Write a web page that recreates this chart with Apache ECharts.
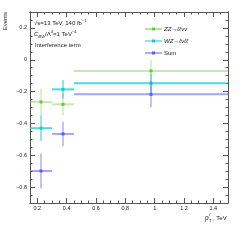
<!DOCTYPE html>
<html><head><meta charset="utf-8">
<script src="https://cdn.jsdelivr.net/npm/echarts@6/dist/echarts.min.js"></script>
<style>html,body{margin:0;padding:0;background:#fff}#c{width:249px;height:240px}</style>
</head><body><div id="c"></div>
<script>
// ---- data ----
const binLo = [0.15, 0.30, 0.45];
const binHi = [0.30, 0.45, 1.50];
const zzVal = [-0.265, -0.280, -0.070];
const zzErr = [0.085, 0.070, 0.070];
const wzVal = [-0.430, -0.186, -0.148];
const wzErr = [0.080, 0.058, 0.060];
const sumVal = [-0.699, -0.466, -0.217];
const sumErr = [0.110, 0.077, 0.082];
const seriesNames = ['ZZ\u2192\u2113\u2113\u03bd\u03bd', 'WZ\u2192\u2113\u03bd\u2113\u2113', 'Sum'];
const xMajorTicks = [0.2, 0.4, 0.6, 0.8, 1.0, 1.2, 1.4];
const xTickLabels = ['0.2', '0.4', '0.6', '0.8', '1', '1.2', '1.4'];
const yMajorTicks = [-0.8, -0.6, -0.4, -0.2, 0, 0.2];
const yTickLabels = ['\u22120.8', '\u22120.6', '\u22120.4', '\u22120.2', '0', '0.2'];
const xRange = [0.15, 1.5];
const yRange = [-0.9, 0.3];

// ---- helpers ----
function minorTicks(lo, hi, step) {
  const out = [];
  for (let v = lo; v <= hi + 1e-9; v += step) out.push(Math.round(v * 1000) / 1000);
  return out;
}
const xMinor = minorTicks(0.15, 1.5, 0.05);
const yMinor = minorTicks(-0.9, 0.3, 0.05);
const FONT = 'Liberation Sans, Arial, Helvetica, sans-serif';
const AX = '#555';

function mkData(vals, errs) {
  return vals.map((v, i) => [binLo[i], binHi[i], v, errs[i]]);
}
const colors = [
  { mark: '#5fcc30', line: 'rgba(110,205,70,0.42)' },
  { mark: '#17cccc', line: 'rgba(20,205,205,0.75)' },
  { mark: '#5a5af5', line: 'rgba(90,90,245,0.55)' }
];

function renderItem(params, api) {
  const x0 = api.value(0), x1 = api.value(1), y = api.value(2), e = api.value(3);
  const xc = (x0 + x1) / 2;
  const a = api.coord([x0, y]), b = api.coord([x1, y]);
  const t = api.coord([xc, y + e]), d = api.coord([xc, y - e]);
  const c = api.coord([xc, y]);
  const col = colors[params.seriesIndex];
  return {
    type: 'group',
    children: [
      { type: 'line', shape: { x1: a[0], y1: a[1], x2: b[0], y2: b[1] }, style: { stroke: col.line, lineWidth: 2 } },
      { type: 'line', shape: { x1: t[0], y1: t[1], x2: d[0], y2: d[1] }, style: { stroke: col.line, lineWidth: 1.3 } },
      { type: 'rect', shape: { x: c[0] - 1.5, y: c[1] - 1.5, width: 3, height: 3 }, style: { fill: col.mark } }
    ]
  };
}

function xAx(pos, ticks, len, labels) {
  return {
    type: 'value', min: xRange[0], max: xRange[1], position: pos, gridIndex: 0,
    axisLine: { show: true, onZero: false, lineStyle: { color: AX, width: 1 } },
    axisTick: { show: true, inside: true, length: len, customValues: ticks, lineStyle: { color: AX, width: 1 } },
    axisLabel: labels ? { show: true, customValues: xMajorTicks, fontSize: 5.5, fontFamily: FONT, color: '#222', margin: 2,
      formatter: v => xTickLabels[xMajorTicks.findIndex(t => Math.abs(t - v) < 1e-6)] } : { show: false },
    splitLine: { show: false }
  };
}
function yAx(pos, ticks, len, labels) {
  return {
    type: 'value', min: yRange[0], max: yRange[1], position: pos, gridIndex: 0,
    axisLine: { show: true, onZero: false, lineStyle: { color: AX, width: 1 } },
    axisTick: { show: true, inside: true, length: len, customValues: ticks, lineStyle: { color: AX, width: 1 } },
    axisLabel: labels ? { show: true, customValues: yMajorTicks, fontSize: 5.5, fontFamily: FONT, color: '#222', margin: 3,
      formatter: v => yTickLabels[yMajorTicks.findIndex(t => Math.abs(t - v) < 1e-6)] } : { show: false },
    splitLine: { show: false }
  };
}

const chart = echarts.init(document.getElementById('c'), null, { renderer: 'canvas' });
const base = { fontFamily: FONT, fontSize: 6, color: '#222' };
chart.setOption({
  animation: false,
  backgroundColor: '#fff',
  grid: { left: 30, top: 12, right: 21, bottom: 37, containLabel: false },
  xAxis: [xAx('bottom', xMajorTicks, 5, true), xAx('bottom', xMinor, 2.5, false), xAx('top', xMajorTicks, 5, false), xAx('top', xMinor, 2.5, false)],
  yAxis: [yAx('left', yMajorTicks, 5, true), yAx('left', yMinor, 2.5, false), yAx('right', yMajorTicks, 5, false), yAx('right', yMinor, 2.5, false)],
  legend: {
    orient: 'vertical', left: 140, top: 21, itemWidth: 17, itemHeight: 3, itemGap: 6,
    icon: 'path://M0,2h34v2h-34z M14,0h6v6h-6z',
    data: seriesNames,
    textStyle: { fontFamily: FONT, fontSize: 6, color: '#222', padding: [0, 0, 0, -3],
      rich: { i: { fontFamily: FONT, fontSize: 6, fontStyle: 'italic', color: '#222' } } },
    formatter: n => n === 'Sum' ? n : '{i|' + n + '}'
  },
  series: [
    { name: seriesNames[0], type: 'custom', renderItem, data: mkData(zzVal, zzErr), itemStyle: { color: colors[0].mark }, xAxisIndex: 0, yAxisIndex: 0, encode: { x: [0, 1], y: 2 } },
    { name: seriesNames[1], type: 'custom', renderItem, data: mkData(wzVal, wzErr), itemStyle: { color: colors[1].mark }, xAxisIndex: 0, yAxisIndex: 0, encode: { x: [0, 1], y: 2 } },
    { name: seriesNames[2], type: 'custom', renderItem, data: mkData(sumVal, sumErr), itemStyle: { color: colors[2].mark }, xAxisIndex: 0, yAxisIndex: 0, encode: { x: [0, 1], y: 2 } }
  ],
  graphic: [
    { type: 'text', left: 2, top: 12, rotation: Math.PI / 2, style: { text: 'Events', fontFamily: FONT, fontSize: 6, fill: '#222' }, originX: 0, originY: 0, x: 0, y: 0 },
    { type: 'text', x: 34, y: 19, style: {
      text: '\u221as=13 TeV, 140 fb{sup|\u22121}', fontFamily: FONT, fontSize: 6, fill: '#222',
      rich: { sup: { fontSize: 4.2, fontFamily: FONT, verticalAlign: 'top', lineHeight: 8 } } } },
    { type: 'text', x: 34, y: 30, style: {
      text: '{i|C}{sub|B\u0303W}/\u039b{sup|4}=1 TeV{sup|\u22124}', fontFamily: FONT, fontSize: 6, fill: '#222',
      rich: { i: { fontStyle: 'italic', fontSize: 6, fontFamily: FONT, lineHeight: 9 },
              sub: { fontStyle: 'italic', fontSize: 4.2, fontFamily: FONT, verticalAlign: 'bottom', lineHeight: 9 },
              sup: { fontSize: 4.2, fontFamily: FONT, verticalAlign: 'top', lineHeight: 9 } } } },
    { type: 'text', x: 35, y: 42, style: { text: 'Interference term', fontFamily: FONT, fontSize: 6, fill: '#222' } },
    { type: 'text', x: 205, y: 215, style: { text: 'p', fontFamily: FONT, fontSize: 6.5, fontStyle: 'italic', fill: '#222' } },
    { type: 'text', x: 209, y: 213, style: { text: '\u2113', fontFamily: FONT, fontSize: 4.2, fontStyle: 'italic', fill: '#222' } },
    { type: 'text', x: 209, y: 219, style: { text: 'T', fontFamily: FONT, fontSize: 4.2, fill: '#222' } },
    { type: 'text', x: 213, y: 215, style: { text: ', TeV', fontFamily: FONT, fontSize: 6, fill: '#222' } }
  ]
});
</script></body></html>
